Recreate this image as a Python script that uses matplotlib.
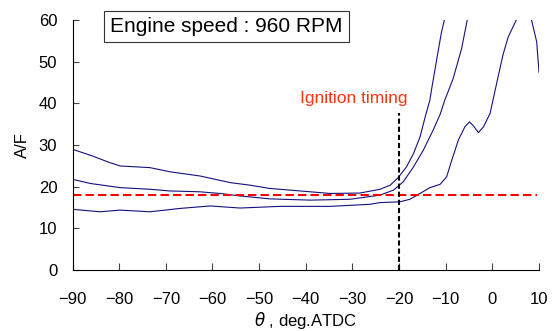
import matplotlib.pyplot as plt

plt.rcParams["font.family"] = ["Liberation Sans", "DejaVu Sans"]

# A/F traces (crank angle in deg ATDC)
upper_x = [-90, -86, -82, -79.8, -73.4, -69.1, -62.7, -56.2, -52, -47.7, -41.2, -34.8,
           -28.4, -24.1, -21.9, -20.2, -18.4, -16.9, -15.5, -14.4, -13.4, -13.0, -11.9,
           -10.9, -10.3, -9.5]
upper_y = [29.0, 27.5, 25.8, 25.0, 24.6, 23.6, 22.6, 21.0, 20.4, 19.6, 19.0, 18.4,
           18.5, 19.4, 20.4, 22.2, 24.8, 28.0, 32.0, 36.8, 40.8, 43.6, 50.8,
           57.2, 60.0, 64.0]

middle_x = [-90, -86.2, -79.8, -73.4, -69.1, -62.7, -58.4, -54.1, -47.7, -39.1, -30.5,
            -24.1, -21.2, -19.1, -16.9, -14.8, -12.7, -11.2, -10.2, -8.4, -6.6, -5.4, -4.8]
middle_y = [21.8, 20.8, 19.8, 19.4, 19.0, 18.8, 18.4, 17.8, 17.1, 16.8, 17.0,
            18.0, 19.2, 21.2, 24.8, 28.8, 33.6, 37.4, 40.8, 46.0, 53.2, 60.0, 64.0]

lower_x = [-90, -84.1, -79.8, -73.4, -67, -60.5, -54.1, -47.7, -45.5, -34.8, -26.2,
           -24.1, -19.8, -17.7, -15.5, -13.4, -11.2, -9.8, -8.7, -7.3, -5.9, -4.9,
           -3.9, -3.0, -1.9, -0.5, 0.4, 1.3, 2.3, 3.4, 5.1, 6.8, 8.4, 9.5, 10.0]
lower_y = [14.6, 14.0, 14.4, 14.0, 14.8, 15.4, 14.9, 15.2, 15.3, 15.3, 15.8,
           16.2, 16.4, 17.0, 18.4, 19.8, 20.6, 22.4, 26.4, 31.2, 34.4, 35.6,
           34.4, 33.0, 34.4, 37.6, 42.2, 46.8, 51.8, 56.0, 60.0, 63.0, 60.0, 54.8, 47.5]

stoich_af = 18
ignition_deg = -20
ignition_top = 37.7

x_ticks = [-90, -80, -70, -60, -50, -40, -30, -20, -10, 0, 10]
y_ticks = [0, 10, 20, 30, 40, 50, 60]

line_color = "#12127e"

fig = plt.figure(figsize=(5.58, 3.31), dpi=100)
ax = fig.add_axes([0.130, 0.184, 0.836, 0.755])

for xs, ys in [(upper_x, upper_y), (middle_x, middle_y), (lower_x, lower_y)]:
    ax.plot(xs, ys, color=line_color, lw=0.8)

ax.hlines(stoich_af, -90, 9.6, colors="#ff0000", lw=1.5, linestyles=(0, (4, 2)))
ax.vlines(ignition_deg, 0, ignition_top, colors="black", lw=1.5, linestyles=(0, (2.5, 1.4)))
ax.text(-29.8, 41.3, "Ignition timing", color="#ff3311", fontsize=12.5,
        ha="center", va="center")

fig.text(0.406, 0.92, "Engine speed : 960 RPM", fontsize=15, ha="center", va="center",
         bbox=dict(boxstyle="square,pad=0.3", facecolor="white", edgecolor="#333333", lw=0.8))

ax.set_xlim(-90, 10)
ax.set_ylim(0, 60)
ax.set_xticks(x_ticks)
ax.set_yticks(y_ticks)
ax.spines["top"].set_visible(False)
ax.spines["right"].set_visible(False)
ax.tick_params(axis="x", direction="in", length=5, pad=16, labelsize=12, color="#444444")
ax.tick_params(axis="y", direction="in", length=4, pad=11, labelsize=12, color="#444444")
ax.set_ylabel("A/F", fontsize=12, labelpad=6)
ax.set_xlabel(r"$\theta$ , deg.ATDC", fontsize=12, labelpad=2)

fig.savefig("out.png", dpi=100)
